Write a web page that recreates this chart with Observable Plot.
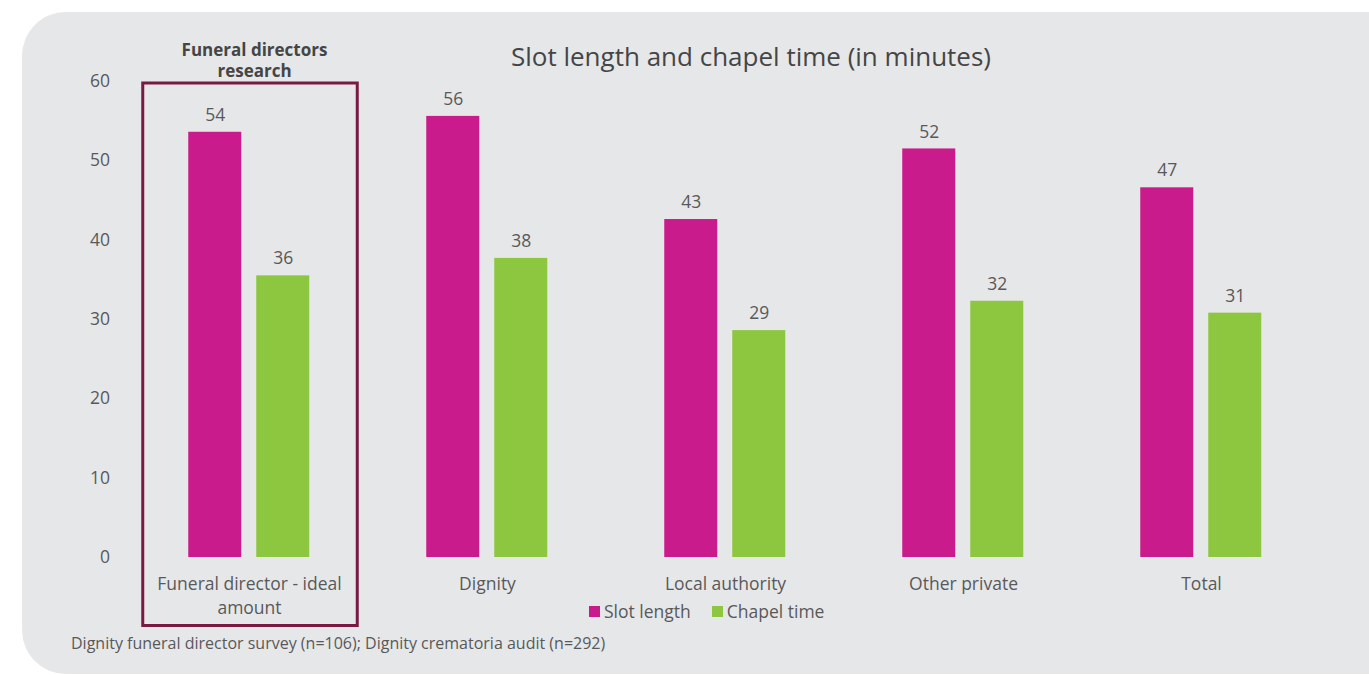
<!DOCTYPE html>
<html>
<head>
<meta charset="utf-8">
<script src="https://cdn.jsdelivr.net/npm/d3@7"></script>
<script src="https://cdn.jsdelivr.net/npm/@observablehq/plot@0.6"></script>
<style>
  body { margin: 0; background: #ffffff; font-family: "Open Sans", sans-serif; }
  #wrap { position: relative; width: 1369px; height: 675px; overflow: hidden; }
  #panel { position: absolute; left: 22px; top: 12px; width: 1390px; height: 662px; background: #e6e7e9; border-radius: 44px; }
  #chart { position: absolute; left: 0; top: 0; }
  #title { position: absolute; left: 751px; top: 39px; transform: translateX(-50%); white-space: nowrap; font-size: 26px; line-height: 34px; color: #454545; }
  #legend { position: absolute; left: 589px; top: 599px; display: flex; align-items: center; font-size: 17.5px; line-height: 24px; color: #595959; }
  #legend .item { display: flex; align-items: center; margin-right: 21px; }
  #legend .sw { width: 11px; height: 11px; margin-right: 4px; }
  #note { position: absolute; left: 71px; top: 632px; font-size: 16px; line-height: 22px; color: #595959; white-space: nowrap; }
</style>
</head>
<body>
<div id="wrap">
  <div id="panel"></div>
  <div id="chart"></div>
  <div id="title"></div>
  <div id="legend"></div>
  <div id="note"></div>
</div>
<script>
const titleText = "Slot length and chapel time (in minutes)";
const noteText = "Dignity funeral director survey (n=106); Dignity crematoria audit (n=292)";
const categories = ["Funeral director - ideal amount", "Dignity", "Local authority", "Other private", "Total"];
const categoryTickLabels = ["Funeral director - ideal\namount", "Dignity", "Local authority", "Other private", "Total"];
const seriesNames = ["Slot length", "Chapel time"];
const seriesColors = ["#c91b8b", "#8dc63f"];
const slotLength = [53.6, 55.6, 42.6, 51.5, 46.6];
const chapelTime = [35.5, 37.7, 28.6, 32.3, 30.8];
const yTicks = [0, 10, 20, 30, 40, 50, 60];
const boxLabel = "Funeral directors\nresearch";

const data = categories.flatMap((c, i) => [
  {cat: c, series: seriesNames[0], value: slotLength[i]},
  {cat: c, series: seriesNames[1], value: chapelTime[i]}
]);

const W = 1369, H = 640;
const chart = Plot.plot({
  width: W,
  height: H,
  marginLeft: 128.75,
  marginRight: 47.75,
  marginTop: 81,
  marginBottom: 83,
  style: {background: "transparent", fontFamily: "'Open Sans', sans-serif", fontSize: "17.5px", color: "#595959"},
  fx: {domain: categories, padding: 0, label: null, axis: null},
  x: {domain: seriesNames, paddingInner: 0.217, paddingOuter: 0.837, axis: null},
  y: {domain: [0, 60], ticks: yTicks, tickSize: 0, tickPadding: 20.5, label: null},
  color: {domain: seriesNames, range: seriesColors},
  marks: [
    Plot.axisFx({
      anchor: "bottom", tickSize: 0, tickPadding: 15, label: null, lineHeight: 1.38,
      fill: "#595959", fontSize: 17.5,
      tickFormat: d => categoryTickLabels[categories.indexOf(d)]
    }),
    Plot.barY(data, {fx: "cat", x: "series", y: "value", fill: "series"}),
    Plot.text(data, {fx: "cat", x: "series", y: "value", text: d => d3.format(".0f")(d.value), dy: -17, fill: "#595959", fontSize: 17.5}),
    Plot.rect([categories[0]], {
      fx: d => d, y1: () => 0, y2: () => 60, fill: "none", stroke: "#7a1a42", strokeWidth: 3,
      insetLeft: 12.75, insetRight: 10.75, insetTop: 2, insetBottom: -68.5
    }),
    Plot.text([categories[0]], {
      fx: d => d, frameAnchor: "top", lineAnchor: "middle", text: () => boxLabel, fontWeight: "bold", fontSize: 17,
      lineHeight: 1.25, dy: -21.5, dx: 5, fill: "#454545"
    })
  ]
});
document.getElementById("chart").append(chart);

document.getElementById("title").textContent = titleText;
document.getElementById("note").textContent = noteText;
const legend = d3.select("#legend");
seriesNames.forEach((s, i) => {
  const item = legend.append("div").attr("class", "item");
  item.append("div").attr("class", "sw").style("background", seriesColors[i]);
  item.append("span").text(s);
});
</script>
</body>
</html>
